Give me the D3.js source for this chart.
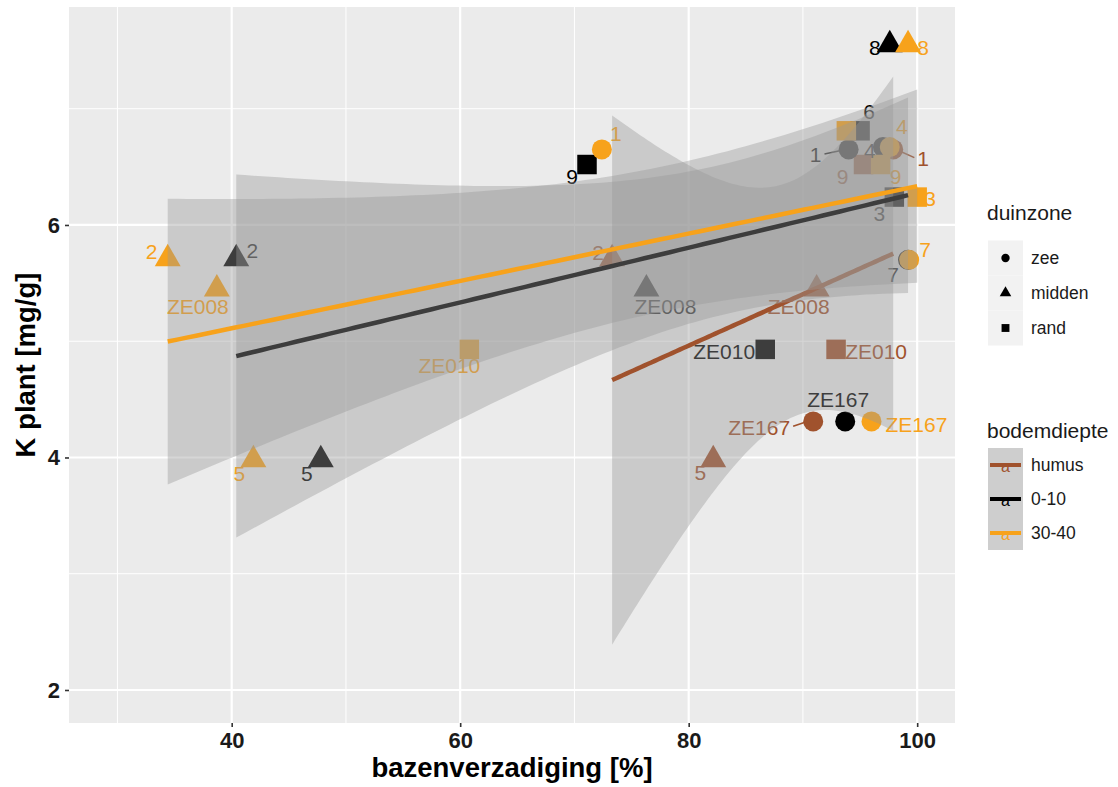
<!DOCTYPE html>
<html>
<head>
<meta charset="utf-8">
<script src="https://cdn.jsdelivr.net/npm/d3@7"></script>
<style>
  html, body { margin: 0; padding: 0; background: #ffffff; }
  svg { display: block; font-family: "Liberation Sans", Arial, Helvetica, sans-serif; }
</style>
</head>
<body>
<svg id="chart" width="1118" height="787"></svg>
<script>
// ---- data -------------------------------------------------------------
// sampling sites and their dune zone
const locations = ["1", "2", "3", "4", "5", "6", "7", "8", "9", "ZE008", "ZE010", "ZE167"];
const duinzone  = ["zee", "midden", "rand", "zee", "midden", "rand", "zee", "midden", "rand", "midden", "rand", "zee"];
// potassium in plant tissue [mg/g], one value per site
const kPlant    = [6.65, 5.71, 6.24, 6.67, 3.98, 6.81, 5.70, 7.55, 6.52, 5.45, 4.93, 4.31];
// base saturation [%] per soil depth (null = no sample)
const bvHumus   = [97.9, 73.3, null, null, 82.15, null, null, null, 95.3, 91.2, 92.9, 90.9];
const bv0_10    = [94.0, 40.4, 98.0, 97.0, 47.8, 95.0, 99.2, 97.6, 71.1, 76.3, 86.7, 93.7];
const bv30_40   = [72.4, 34.4, 100.0, 97.6, 41.9, 93.8, 99.3, 99.2, 96.8, 38.7, 60.8, 96.0];

const depths = ["humus", "0-10", "30-40"];
const zones  = ["zee", "midden", "rand"];
const xTicks = [40, 60, 80, 100];
const yTicks = [2, 4, 6];

// ---- styling / layout -------------------------------------------------
const depthColor = { "humus": "#A0522D", "0-10": "#000000", "30-40": "#F7A21B" };
const zoneSymbol = { "zee": d3.symbolCircle, "midden": d3.symbolTriangle, "rand": d3.symbolSquare };
const zoneSize   = { "zee": 314, "midden": 290, "rand": 380 };

// label offsets (px) from each point, as placed by the repel step
const labelNudge = {
  "1|30-40": [14, -16], "1|0-10": [-33, 5, true], "1|humus": [30, 9, true],
  "2|30-40": [-16, -7], "2|0-10": [16, -8], "2|humus": [-14, -6],
  "3|30-40": [13, 1], "3|0-10": [-15, 16],
  "4|0-10": [-13, 3], "4|30-40": [12, -21],
  "5|30-40": [-14, 14], "5|0-10": [-14, 14], "5|humus": [-13, 13],
  "6|0-10": [9, -19], "6|30-40": [-2, 2],
  "7|30-40": [16, -10], "7|0-10": [-15, 15],
  "8|0-10": [-15, 3], "8|30-40": [15, 3],
  "9|0-10": [-15, 12], "9|humus": [-21, 12], "9|30-40": [15, 12],
  "ZE008|30-40": [-19, 18], "ZE008|0-10": [19, 18], "ZE008|humus": [-18, 18],
  "ZE010|30-40": [-20, 16], "ZE010|0-10": [-41, 2], "ZE010|humus": [40, 2],
  "ZE167|30-40": [45, 3], "ZE167|0-10": [-7, -22], "ZE167|humus": [-54, 6, true]
};

// two-sided 95% Student t quantiles by degrees of freedom
const t975 = [NaN, 12.706, 4.303, 3.182, 2.776, 2.571, 2.447, 2.365, 2.306, 2.262,
              2.228, 2.201, 2.179, 2.160, 2.145, 2.131, 2.120, 2.110, 2.101, 2.093, 2.086];

// ---- scales -----------------------------------------------------------
const panel = { left: 69, right: 955, top: 7, bottom: 723 };
const x = d3.scaleLinear().domain([25.76, 103.31]).range([panel.left, panel.right]);
const y = d3.scaleLinear().domain([1.716, 7.875]).range([panel.bottom, panel.top]);

const svg = d3.select("#chart");

svg.append("defs").append("clipPath").attr("id", "panelClip")
  .append("rect")
  .attr("x", panel.left).attr("y", panel.top)
  .attr("width", panel.right - panel.left).attr("height", panel.bottom - panel.top);

// panel background and grid
svg.append("rect")
  .attr("x", panel.left).attr("y", panel.top)
  .attr("width", panel.right - panel.left).attr("height", panel.bottom - panel.top)
  .attr("fill", "#EBEBEB");

const grid = svg.append("g");
const xMinor = d3.range(30, 101, 20);
const yMinor = [3, 5, 7];
grid.selectAll(".xminor").data(xMinor).join("line")
  .attr("x1", d => x(d)).attr("x2", d => x(d))
  .attr("y1", panel.top).attr("y2", panel.bottom)
  .attr("stroke", "#ffffff").attr("stroke-width", 1);
grid.selectAll(".yminor").data(yMinor).join("line")
  .attr("y1", d => y(d)).attr("y2", d => y(d))
  .attr("x1", panel.left).attr("x2", panel.right)
  .attr("stroke", "#ffffff").attr("stroke-width", 1);
grid.selectAll(".xmajor").data(xTicks).join("line")
  .attr("x1", d => x(d)).attr("x2", d => x(d))
  .attr("y1", panel.top).attr("y2", panel.bottom)
  .attr("stroke", "#ffffff").attr("stroke-width", 2.2);
grid.selectAll(".ymajor").data(yTicks).join("line")
  .attr("y1", d => y(d)).attr("y2", d => y(d))
  .attr("x1", panel.left).attr("x2", panel.right)
  .attr("stroke", "#ffffff").attr("stroke-width", 2.2);

// ---- observations -----------------------------------------------------
const bvByDepth = { "humus": bvHumus, "0-10": bv0_10, "30-40": bv30_40 };
const points = [];
depths.forEach(dep => {
  bvByDepth[dep].forEach((v, i) => {
    if (v != null) points.push({ loc: locations[i], zone: duinzone[i], depth: dep, bv: v, k: kPlant[i] });
  });
});

const plot = svg.append("g").attr("clip-path", "url(#panelClip)");

plot.append("g").selectAll("path").data(points).join("path")
  .attr("transform", d => `translate(${x(d.bv)},${y(d.k)})`)
  .attr("d", d => d3.symbol(zoneSymbol[d.zone], zoneSize[d.zone])())
  .attr("fill", d => depthColor[d.depth]);

// site labels
const labelLayer = plot.append("g")
  .attr("font-size", 21);
points.forEach(p => {
  const nud = labelNudge[p.loc + "|" + p.depth] || [12, -12];
  const px = x(p.bv), py = y(p.k);
  const lx = px + nud[0], ly = py + nud[1];
  const t = labelLayer.append("text")
    .attr("x", lx).attr("y", ly)
    .attr("text-anchor", "middle")
    .attr("dominant-baseline", "central")
    .attr("fill", depthColor[p.depth])
    .text(p.loc);
  if (nud[2]) {
    const halfW = t.node().getComputedTextLength() / 2 + 3;
    const dx = px - lx, dy = py - ly, len = Math.hypot(dx, dy);
    const ux = dx / len, uy = dy / len;
    const sx = lx + Math.sign(dx) * halfW, sy = ly + uy * Math.abs(halfW / (ux || 1)) * 0.3;
    labelLayer.append("line")
      .attr("x1", sx).attr("y1", sy)
      .attr("x2", px - ux * 9).attr("y2", py - uy * 9)
      .attr("stroke", depthColor[p.depth]).attr("stroke-width", 1.6);
  }
});

// ---- linear fits with 95% confidence bands ----------------------------
depths.forEach(dep => {
  const pts = points.filter(p => p.depth === dep);
  const n = pts.length;
  const mx = d3.mean(pts, p => p.bv), my = d3.mean(pts, p => p.k);
  const sxx = d3.sum(pts, p => (p.bv - mx) ** 2);
  const sxy = d3.sum(pts, p => (p.bv - mx) * (p.k - my));
  const slope = sxy / sxx, icept = my - slope * mx;
  const sse = d3.sum(pts, p => (p.k - (icept + slope * p.bv)) ** 2);
  const s = Math.sqrt(sse / (n - 2));
  const tq = t975[n - 2];
  const [x0, x1] = d3.extent(pts, p => p.bv);
  const fit = d3.range(80).map(i => {
    const xv = x0 + (x1 - x0) * i / 79;
    const fv = icept + slope * xv;
    const se = s * Math.sqrt(1 / n + (xv - mx) ** 2 / sxx);
    return { x: xv, fit: fv, lo: fv - tq * se, hi: fv + tq * se };
  });
  plot.append("path").datum(fit)
    .attr("d", d3.area().x(d => x(d.x)).y0(d => y(d.lo)).y1(d => y(d.hi)))
    .attr("fill", "#999999").attr("fill-opacity", 0.4);
  plot.append("path").datum(fit)
    .attr("d", d3.line().x(d => x(d.x)).y(d => y(d.fit)))
    .attr("fill", "none").attr("stroke", depthColor[dep]).attr("stroke-width", 4.5);
});

// ---- axes -------------------------------------------------------------
const axisX = svg.append("g").attr("transform", `translate(0,${panel.bottom})`)
  .call(d3.axisBottom(x).tickValues(xTicks).tickFormat(d3.format("d")).tickSize(4).tickPadding(5));
const axisY = svg.append("g").attr("transform", `translate(${panel.left},0)`)
  .call(d3.axisLeft(y).tickValues(yTicks).tickFormat(d3.format("d")).tickSize(4).tickPadding(5));
[axisX, axisY].forEach(a => {
  a.select(".domain").remove();
  a.selectAll(".tick line").attr("stroke", "#333333").attr("stroke-width", 1.6);
  a.selectAll(".tick text")
    .attr("fill", "#1a1a1a").attr("font-size", 22).attr("font-weight", "bold")
    .attr("font-family", "'Liberation Sans', Arial, sans-serif");
});

svg.append("text")
  .attr("x", (panel.left + panel.right) / 2).attr("y", 777)
  .attr("text-anchor", "middle").attr("font-size", 27.5).attr("font-weight", "bold")
  .attr("fill", "#000").text("bazenverzadiging [%]");
svg.append("text")
  .attr("transform", `translate(35,${(panel.top + panel.bottom) / 2}) rotate(-90)`)
  .attr("text-anchor", "middle").attr("font-size", 27.5).attr("font-weight", "bold")
  .attr("fill", "#000").text("K plant [mg/g]");

// ---- legends ----------------------------------------------------------
const keyX = 988, keyW = 35, keyH = 35;
const leg1 = svg.append("g");
leg1.append("text").attr("x", 987).attr("y", 220).attr("font-size", 21).attr("fill", "#1a1a1a").text("duinzone");
zones.forEach((z, i) => {
  const cy = 258 + i * keyH;
  leg1.append("rect").attr("x", keyX).attr("y", cy - keyH / 2).attr("width", keyW).attr("height", keyH).attr("fill", "#F2F2F2");
  leg1.append("path")
    .attr("transform", `translate(${keyX + keyW / 2},${cy})`)
    .attr("d", d3.symbol(zoneSymbol[z], z === "midden" ? 58 : (z === "rand" ? 62 : 55))())
    .attr("fill", "#000");
  leg1.append("text").attr("x", 1031).attr("y", cy).attr("dominant-baseline", "central")
    .attr("font-size", 17.5).attr("fill", "#1a1a1a").text(z);
});

const leg2 = svg.append("g");
leg2.append("text").attr("x", 987).attr("y", 438).attr("font-size", 21).attr("fill", "#1a1a1a").text("bodemdiepte");
depths.forEach((dep, i) => {
  const cy = 465 + i * 34;
  leg2.append("rect").attr("x", keyX).attr("y", cy - 17).attr("width", keyW).attr("height", 34).attr("fill", "#F2F2F2");
  leg2.append("rect").attr("x", keyX).attr("y", cy - 17).attr("width", keyW).attr("height", 34)
    .attr("fill", "#999999").attr("fill-opacity", 0.4);
  leg2.append("line").attr("x1", keyX + 2).attr("x2", keyX + keyW - 2).attr("y1", cy).attr("y2", cy)
    .attr("stroke", depthColor[dep]).attr("stroke-width", 4);
  leg2.append("text").attr("x", keyX + keyW / 2).attr("y", cy + 1).attr("text-anchor", "middle")
    .attr("dominant-baseline", "central").attr("font-size", 16).attr("fill", depthColor[dep]).text("a");
  leg2.append("text").attr("x", 1031).attr("y", cy).attr("dominant-baseline", "central")
    .attr("font-size", 17.5).attr("fill", "#1a1a1a").text(dep);
});
</script>
</body>
</html>
